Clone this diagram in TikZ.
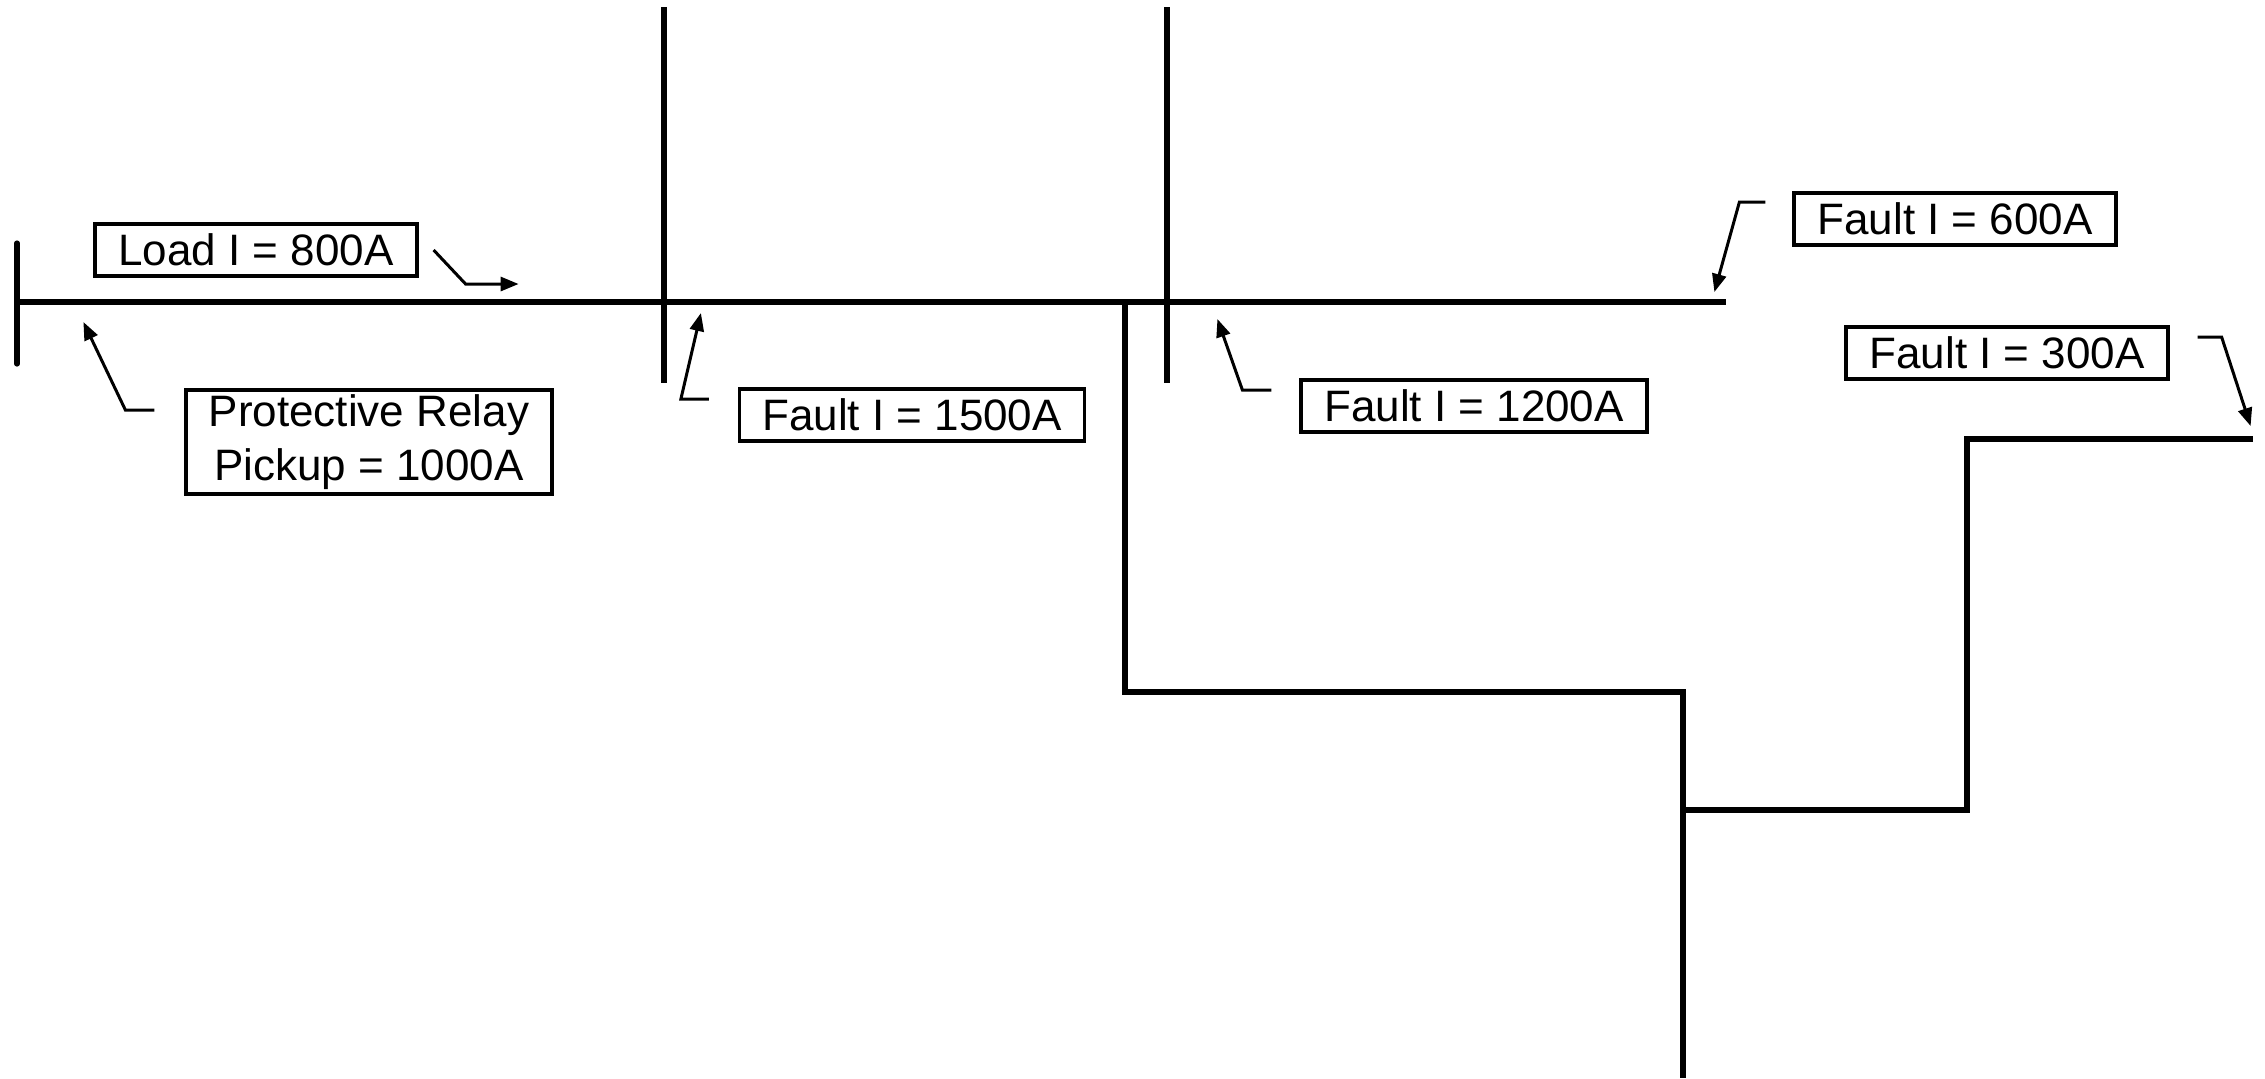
\documentclass[tikz,border=0pt]{standalone}
\usepackage{fontspec}
\setmainfont{Liberation Sans}
\usetikzlibrary{arrows.meta}
\tikzset{
  lbl/.style  = {rectangle, draw=black, line width=1.6pt, inner sep=0pt,
                 minimum height=26pt, align=center,
                 font=\fontsize{22}{27}\selectfont},
  bus/.style  = {line width=2.6pt, black},
  ldr/.style  = {-{Triangle[length=9pt,width=7pt]}, line width=1.5pt, black},
}
\begin{document}
\begin{tikzpicture}[x=0.5pt,y=-0.5pt]
  \useasboundingbox (0,0) rectangle (2265,1078);

  % feeder, buses and branch
  \draw[bus, line cap=round] (17,243) -- (17,364);
  \draw[bus] (17,302) -- (1726,302);
  \draw[bus] (664,7) -- (664,383);
  \draw[bus] (1167,7) -- (1167,383);
  \draw[bus] (1125,302) -- (1125,692) -- (1683,692) -- (1683,1078);
  \draw[bus] (1683,810) -- (1967,810) -- (1967,439) -- (2253,439);

  % labels
  \node[lbl, minimum width=161pt] (load) at (256,250) {Load I = 800A};
  \node[lbl, minimum width=183pt, minimum height=52pt] (relay) at (369,442)
       {Protective Relay\\ Pickup = 1000A};
  \node[lbl, minimum width=172.5pt] (f1500) at (912,415) {Fault I = 1500A};
  \node[lbl, minimum width=173pt] (f1200) at (1474,406) {Fault I = 1200A};
  \node[lbl, minimum width=161pt] (f600) at (1955,219) {Fault I = 600A};
  \node[lbl, minimum width=161pt] (f300) at (2007,353) {Fault I = 300A};

  % leaders
  \draw[ldr] ([xshift=7.5pt]load.east) -- ++(32,34) -- ++(53,0);
  \draw[ldr] ([xshift=-15pt,yshift=16pt]relay.west) -- ++(-29,0) -- ++(-42,-88);
  \draw[ldr] ([xshift=-14.5pt,yshift=8pt]f1500.west) -- ++(-28,0) -- ++(20,-86);
  \draw[ldr] ([xshift=-14pt,yshift=8pt]f1200.west) -- ++(-29,0) -- ++(-25,-71);
  \draw[ldr] ([xshift=-13.5pt,yshift=8.5pt]f600.west) -- ++(-26,0) -- ++(-25,90);
  \draw[ldr] ([xshift=14pt,yshift=8pt]f300.east) -- ++(24,0) -- ++(29,89);

\end{tikzpicture}
\end{document}
